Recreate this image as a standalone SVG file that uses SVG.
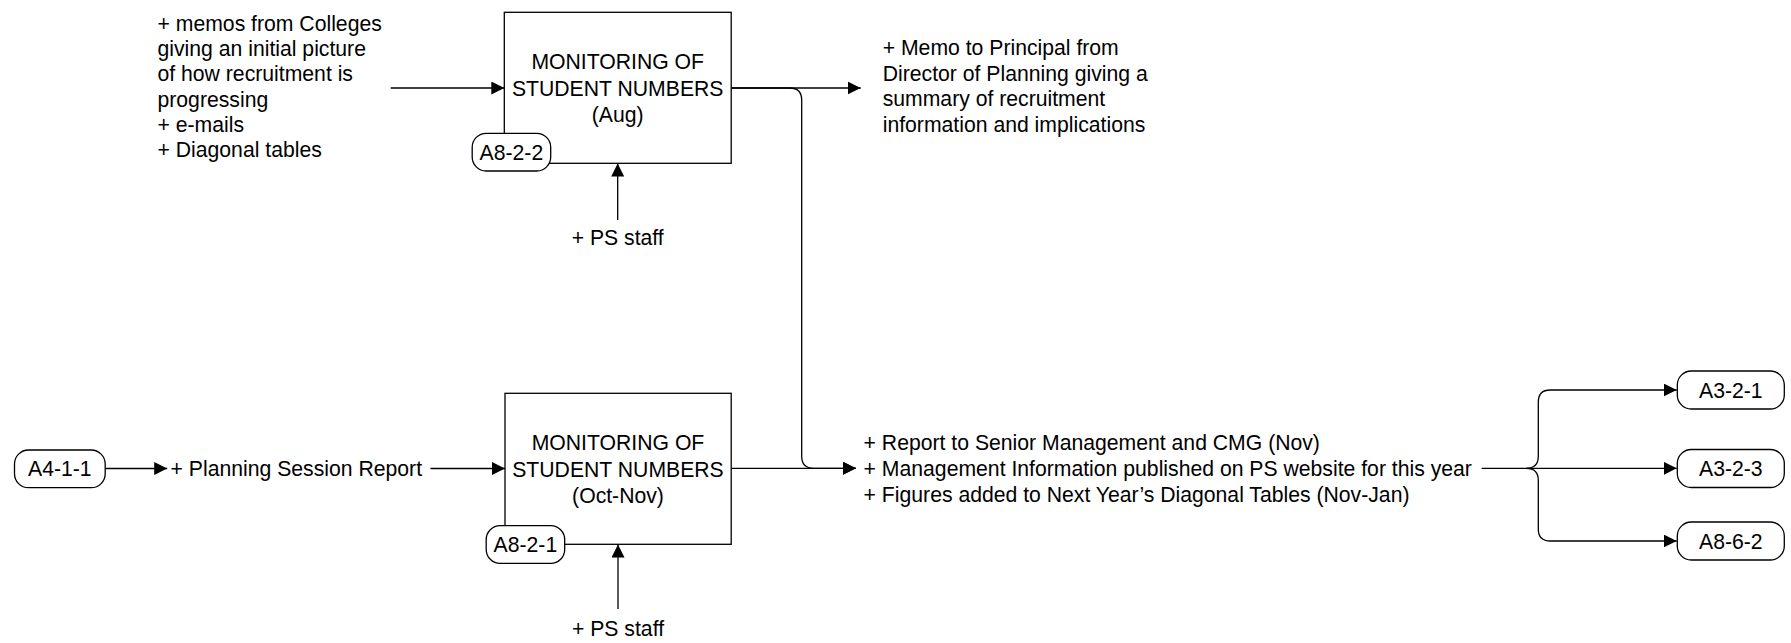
<svg xmlns="http://www.w3.org/2000/svg" width="1791" height="643" viewBox="0 0 1791 643">
<style>
text{font-family:"Liberation Sans",Arial,sans-serif;font-size:21.2px;fill:#000}
.c{text-anchor:middle}
.box{fill:#fff;stroke:#000;stroke-width:1.3}
.ref{fill:#fff;stroke:#000;stroke-width:1.3}
.ln{fill:none;stroke:#000;stroke-width:1.3}
</style>
<defs>
<marker id="ah" markerUnits="userSpaceOnUse" markerWidth="14" markerHeight="14" refX="13" refY="6.5" orient="auto">
<path d="M0,0 L13,6.5 L0,13 z" fill="#000"/>
</marker>
</defs>
<rect width="1791" height="643" fill="#fff"/>
<g id="connectors">
<path class="ln" d="M390.7,88 L504.3,88" marker-end="url(#ah)"/>
<path class="ln" d="M617.7,220 L617.7,163.5" marker-end="url(#ah)"/>
<path class="ln" d="M731.2,88 L860.7,88" marker-end="url(#ah)"/>
<path class="ln" d="M731.2,88 L789.7,88 Q801.7,88 801.7,100 L801.7,456.3 Q801.7,468.3 813.7,468.3 L856,468.3" marker-end="url(#ah)"/>
<path class="ln" d="M731.2,468.3 L856,468.3" marker-end="url(#ah)"/>
<path class="ln" d="M105.2,468.5 L167.2,468.5" marker-end="url(#ah)"/>
<path class="ln" d="M430.4,468.5 L505,468.5" marker-end="url(#ah)"/>
<path class="ln" d="M618,609 L618,544.5" marker-end="url(#ah)"/>
<path class="ln" d="M1481.7,468.3 L1676.7,468.3" marker-end="url(#ah)"/>
<path class="ln" d="M1526.3,468.3 Q1538.3,468.3 1538.3,456.3 L1538.3,402 Q1538.3,390 1550.3,390 L1676.7,390" marker-end="url(#ah)"/>
<path class="ln" d="M1526.3,468.3 Q1538.3,468.3 1538.3,480.3 L1538.3,529 Q1538.3,541 1550.3,541 L1676.7,541" marker-end="url(#ah)"/>
</g>
<g id="memos-input">
<text x="157.5" y="30.5">+ memos from Colleges</text>
<text x="157.5" y="55.9">giving an initial picture</text>
<text x="157.5" y="81.3">of how recruitment is</text>
<text x="157.5" y="106.7">progressing</text>
<text x="157.5" y="132">+ e-mails</text>
<text x="157.5" y="157.3">+ Diagonal tables</text>
</g>
<g id="box-aug">
<rect class="box" x="504.3" y="12.3" width="226.9" height="151"/>
<text class="c" x="617.7" y="69">MONITORING OF</text>
<text class="c" x="617.7" y="95.5">STUDENT NUMBERS</text>
<text class="c" x="617.7" y="122">(Aug)</text>
</g>
<g id="ref-a8-2-2">
<rect class="ref" x="472.2" y="133.3" width="78.5" height="37.7" rx="14" ry="14"/>
<text class="c" x="511.4" y="159.7">A8-2-2</text>
</g>
<g id="ps-staff-aug">
<text class="c" x="617.7" y="245">+ PS staff</text>
</g>
<g id="memo-output">
<text x="882.7" y="55">+ Memo to Principal from</text>
<text x="882.7" y="80.5">Director of Planning giving a</text>
<text x="882.7" y="106">summary of recruitment</text>
<text x="882.7" y="131.5">information and implications</text>
</g>
<g id="ref-a4-1-1">
<rect class="ref" x="14.5" y="450" width="90.7" height="37.7" rx="14" ry="14"/>
<text class="c" x="59.8" y="476.3">A4-1-1</text>
</g>
<g id="planning-input">
<text x="170.6" y="476">+ Planning Session Report</text>
</g>
<g id="box-octnov">
<rect class="box" x="505" y="393.3" width="226.2" height="151"/>
<text class="c" x="618" y="450">MONITORING OF</text>
<text class="c" x="618" y="476.5">STUDENT NUMBERS</text>
<text class="c" x="618" y="503">(Oct-Nov)</text>
</g>
<g id="ref-a8-2-1">
<rect class="ref" x="486.2" y="525.7" width="78.5" height="37.7" rx="14" ry="14"/>
<text class="c" x="525.4" y="552">A8-2-1</text>
</g>
<g id="ps-staff-octnov">
<text class="c" x="618" y="635.5">+ PS staff</text>
</g>
<g id="report-output">
<text x="863.6" y="450">+ Report to Senior Management and CMG (Nov)</text>
<text x="863.6" y="476">+ Management Information published on PS website for this year</text>
<text x="863.6" y="502">+ Figures added to Next Year’s Diagonal Tables (Nov-Jan)</text>
</g>
<g id="ref-a3-2-1">
<rect class="ref" x="1677.3" y="371" width="107" height="38" rx="14" ry="14"/>
<text class="c" x="1730.8" y="397.5">A3-2-1</text>
</g>
<g id="ref-a3-2-3">
<rect class="ref" x="1677.3" y="449.5" width="107" height="38" rx="14" ry="14"/>
<text class="c" x="1730.8" y="476">A3-2-3</text>
</g>
<g id="ref-a8-6-2">
<rect class="ref" x="1677.3" y="522" width="107" height="38" rx="14" ry="14"/>
<text class="c" x="1730.8" y="548.5">A8-6-2</text>
</g>
</svg>
